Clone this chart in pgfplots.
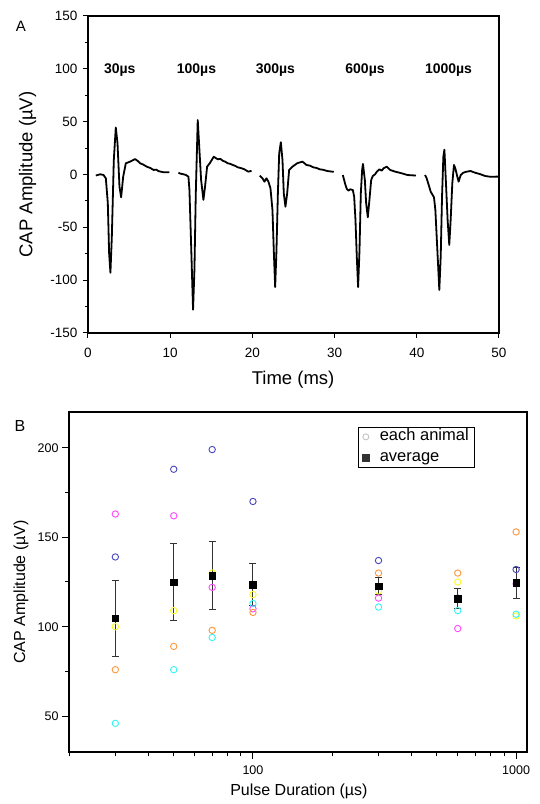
\documentclass[border=0pt]{standalone}
\usepackage{fontspec}
\setmainfont{Liberation Sans}
\usepackage{pgfplots}
\pgfplotsset{compat=1.18}

\definecolor{cBlue}{RGB}{70,70,190}
\definecolor{cMag}{RGB}{255,70,255}
\definecolor{cYel}{RGB}{250,250,40}
\definecolor{cOra}{RGB}{255,150,60}
\definecolor{cCya}{RGB}{50,245,245}
\definecolor{cGray}{RGB}{195,195,195}

\pgfplotsset{
  animal/.style={only marks, mark=o, mark size=3.2pt, line width=0.9pt, color=#1, forget plot},
  trace/.style={black, line width=1.8pt, line join=round, no marks},
}

\begin{document}
\begin{tikzpicture}
% panel A: CAP traces
\begin{axis}[
  at={(88pt,471pt)}, anchor=south west,
  scale only axis, width=411pt, height=317pt,
  xmin=0, xmax=50, ymin=-150, ymax=150,
  xtick={0,10,...,50}, ytick={-150,-100,...,150},
  minor y tick num=1,
  tickpos=left, tick align=outside,
  major tick length=5pt, minor tick length=3pt,
  axis line style={line width=1.1pt},
  tick style={black, line width=1pt},
  tick label style={font=\fontsize{13.5}{14}\selectfont},
  xticklabel style={yshift=-7pt},
  yticklabel style={xshift=-2pt},
  /pgf/number format/assume math mode=true,
  xlabel={Time (ms)}, ylabel={CAP Amplitude (µV)},
  label style={font=\fontsize{18.5}{20}\selectfont},
  xlabel style={at={(axis description cs:0.499,-0.148)}, anchor=center},
  ylabel style={at={(axis description cs:-0.147,0.5)}, anchor=center},
  clip=false,
]
\addplot[trace] coordinates {
  (0.95,-1) (1.48,0.2) (1.88,-0.4) (2.17,-3.6) (2.41,-27) (2.57,-74.6)
  (2.73,-93) (2.90,-58.8) (3.14,13.7) (3.38,44.5) (3.59,29.5) (3.83,-11.5)
  (4.03,-21.6) (4.28,-2.1) (4.6,10.6) (5.13,12.2) (5.45,13.5) (5.73,14.6)
  (6.05,12.8) (6.34,10.6) (6.7,9.5) (7.15,7.4) (7.6,6.1) (7.97,4.3)
  (8.3,4.6) (8.57,3.2) (9.18,2.1) (9.9,2.1)
};
\addplot[trace] coordinates {
  (11.0,1.7) (11.25,0.8) (11.53,0.4) (11.93,-0.5) (12.22,-2.1) (12.34,-14.7)
  (12.54,-65) (12.78,-128) (12.95,-90) (13.11,-19) (13.35,51.6) (13.51,29.5)
  (13.76,-5.1) (14.04,-24) (14.24,-11.5) (14.49,7.4) (14.81,10.6) (15.30,16.8)
  (15.78,14.4) (16.1,14.8) (16.39,13) (16.7,12.1) (17.0,10.6) (17.3,10.1)
  (17.61,9) (17.9,8.2) (18.22,6.8) (18.6,6.1) (19.03,4.9) (19.5,2.7) (19.9,3.5)
};
\addplot[trace] coordinates {
  (20.9,-1.1) (21.22,-3.6) (21.47,-6.8) (21.71,-3.6) (21.95,-6.8) (22.2,-13.1)
  (22.44,-33.6) (22.6,-71.5) (22.77,-106.5) (22.93,-71.5) (23.1,-17.9) (23.26,20)
  (23.46,30.5) (23.66,13.7) (23.82,-17.9) (24.02,-30.5) (24.23,-17.9) (24.47,4.3)
  (24.87,7.4) (25.44,10.6) (26.09,12.2) (26.58,9) (27.0,8.4) (27.39,6.8)
  (27.8,6.2) (28.2,4.9) (28.6,4.5) (29.1,3.3) (29.9,2.5)
};
\addplot[trace] coordinates {
  (31.0,-0.5) (31.16,-5.2) (31.32,-9.9) (31.49,-13.7) (31.69,-15.3) (31.89,-14)
  (32.22,-14.7) (32.38,-21) (32.54,-43) (32.7,-77.7) (32.86,-106.5) (33.03,-71.5)
  (33.19,-17.9) (33.35,4.3) (33.45,10) (33.68,-5.2) (33.84,-27.3) (34.04,-40.5)
  (34.24,-23.9) (34.45,-5.2) (34.65,-1.4) (34.93,0.2) (35.14,2.7) (35.46,4.9)
  (35.74,3.6) (35.95,5.8) (36.35,7.4) (36.76,4.3) (37.37,2.7) (38.18,1.1)
  (38.87,-0.5) (39.9,-1)
};
\addplot[trace] coordinates {
  (41.0,-0.5) (41.2,-3.6) (41.45,-9.9) (41.69,-16.3) (41.93,-19.4) (42.09,-21.6)
  (42.26,-33.6) (42.42,-58.8) (42.58,-84) (42.74,-109.3) (42.91,-77.7) (43.07,-21)
  (43.23,16.8) (43.36,23.5) (43.55,-8.4) (43.75,-43) (43.95,-66.7) (44.12,-43)
  (44.32,-8.4) (44.52,9) (44.69,5.8) (44.93,-2.1) (45.09,-6.8) (45.34,-0.5)
  (45.66,1.7) (46.07,2.7) (46.55,3.3) (47.08,1.7) (47.69,0.4) (48.3,-1.4)
  (48.9,-2.1) (50,-2)
};
\begin{scope}[font=\fontsize{14}{15}\selectfont\bfseries]
\node at (axis cs:3.86,99) {30µs};
\node at (axis cs:13.2,99) {100µs};
\node at (axis cs:22.8,99) {300µs};
\node at (axis cs:33.7,99) {600µs};
\node at (axis cs:43.86,99) {1000µs};
\end{scope}
\end{axis}

% panel B: amplitude vs pulse duration
\begin{axis}[
  at={(69pt,52pt)}, anchor=south west,
  scale only axis, width=458pt, height=340pt,
  xmode=log, xmin=20, xmax=1100, ymin=30, ymax=220,
  ytick={50,100,150,200}, minor y tick num=1,
  log ticks with fixed point,
  /pgf/number format/1000 sep={},
  /pgf/number format/assume math mode=true,
  tickpos=left, tick align=outside,
  major tick length=7pt, minor tick length=4pt,
  axis line style={line width=1.3pt},
  tick style={black, line width=1pt},
  tick label style={font=\fontsize{12.5}{13}\selectfont},
  xticklabel style={yshift=-3pt},
  xlabel={Pulse Duration (µs)}, ylabel={CAP Amplitude (µV)},
  label style={font=\fontsize{16}{17}\selectfont},
  xlabel style={at={(axis description cs:0.502,-0.117)}, anchor=center},
  ylabel style={at={(axis description cs:-0.105,0.471)}, anchor=center},
  legend cell align=left,
  legend image code/.code={\path (-3pt,0pt) (12pt,0pt); \draw[#1] plot coordinates {(0pt,0pt)};},
  legend style={at={(axis description cs:0.631,0.956)}, anchor=north west,
    draw=black, line width=0.8pt, fill=white,
    font=\fontsize{16.5}{17}\selectfont,
    inner xsep=4pt, inner ysep=1pt, row sep=4pt,
    nodes={inner sep=1.5pt, text height=11pt, text depth=3pt}},
  clip=false,
]
\addplot[animal=cBlue] coordinates {(30,139) (50,188) (70,199) (100,170) (300,137) (600,116) (1000,132)};
\addplot[animal=cYel] coordinates {(30,100) (50,109) (70,130) (100,118) (300,120) (600,125) (1000,106)};
\addplot[animal=cMag] coordinates {(30,163) (50,162) (70,122) (100,110) (300,116) (600,99) (1000,124)};
\addplot[animal=cCya] coordinates {(30,46) (50,76) (70,94) (100,113) (300,111) (600,109) (1000,107)};
\addplot[animal=cOra] coordinates {(30,76) (50,89) (70,98) (100,108) (300,130) (600,130) (1000,153)};
\addplot[only marks, mark=square*, mark size=3.3pt, black, forget plot,
  error bars/.cd, y dir=both, y explicit,
  error bar style={line width=1pt, black!80},
  error mark options={rotate=90, mark size=3.5pt, line width=1pt, black!80}]
  coordinates {
  (30,104.8) +- (0,21.2)
  (50,124.8) +- (0,21.5)
  (70,128.6) +- (0,19)
  (100,123.6) +- (0,11.5)
  (300,122.7) +- (0,4.7)
  (600,115.7) +- (0,5.5)
  (1000,124.5) +- (0,8.5)
};
\addlegendimage{only marks, mark=o, mark size=3pt, line width=0.9pt, cGray}
\addlegendentry{each\ animal}
\addlegendimage{only marks, mark=square*, mark size=3.3pt, black!80}
\addlegendentry{average}
\end{axis}

\node[font=\fontsize{15}{16}\selectfont] at (21pt,778pt) {A};
\node[font=\fontsize{16}{17}\selectfont] at (20pt,378pt) {B};

\pgfresetboundingbox
\useasboundingbox (0,0) rectangle (540pt,804pt);
\end{tikzpicture}
\end{document}
